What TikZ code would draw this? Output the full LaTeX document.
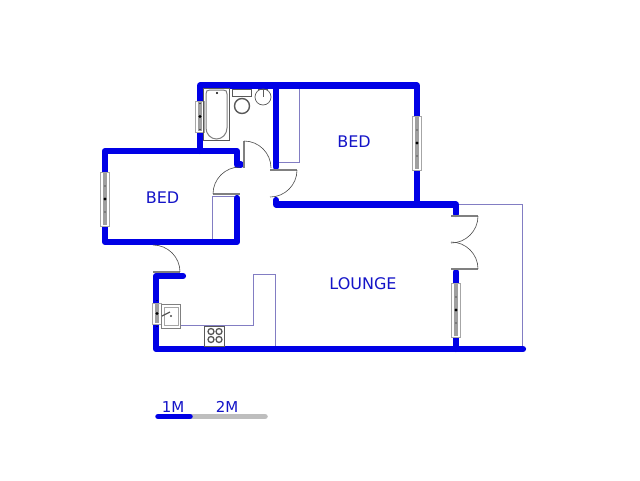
\documentclass[tikz,border=0pt]{standalone}
\usepackage{fontspec}
\setmainfont{DejaVu Sans}
\definecolor{wallblue}{RGB}{0,0,230}
\definecolor{labelblue}{RGB}{20,20,200}
\definecolor{fitline}{RGB}{130,125,195}
\definecolor{barGrey}{RGB}{190,190,190}
\newcommand{\planwindow}[3]{%
  \fill[white] (#1-4.5,#2) rectangle (#1+4.5,#3);
  \draw[gray!70,line width=0.8pt] (#1-4.5,#2) rectangle (#1+4.5,#3);
  \fill[gray!75] (#1-1.8,#2+1) rectangle (#1+1.8,#3-1);
  \fill[black] (#1,{(#2+#3)/2}) circle (1.6);
  \fill[black] (#1,{(#2+#3)/2-13}) circle (0.7);
  \fill[black] (#1,{(#2+#3)/2+13}) circle (0.7);
}
\begin{document}
\begin{tikzpicture}[x=1pt,y=-1pt,
    wall/.style={draw=wallblue,line width=6.2pt,line cap=round,line join=round},
    fitting/.style={draw=fitline,line width=0.8pt},
    lintel/.style={draw=gray,line width=2.4pt},
    swing/.style={draw=black!70,line width=0.6pt},
    ware/.style={draw=black!65,line width=0.7pt},
    roomlabel/.style={text=labelblue,font=\fontsize{16}{16}\selectfont,inner sep=0pt},
    barlabel/.style={text=labelblue,font=\fontsize{15}{15}\selectfont,inner sep=0pt}]
    \useasboundingbox[fill=white] (0,0) rectangle (640,480);
    %built in cupboards and stoep
    \draw[fitting] (276,162) -- (299,162) -- (299,88);
    \draw[fitting] (237,196) -- (212,196) -- (212,241);
    \draw[fitting] (180,325) -- (253,325) -- (253,274) -- (275,274) -- (275,348);
    \draw[fitting] (459,204.5) -- (522,204.5) -- (522,348);
    %walls
    \draw[wall] (241,164.5) -- (237,164.5) -- (237,151) -- (105,151) -- (105,172);
    \draw[wall] (105,226) -- (105,242) -- (237,242) -- (237,198);
    \draw[wall] (200,151) -- (200,85.5) -- (417,85.5) -- (417,204.5) -- (276,204.5) -- (276,200);
    \draw[wall] (276,86) -- (276,167);
    \draw[wall] (417,204.5) -- (456,204.5) -- (456,214);
    \draw[wall] (456,272) -- (456,349);
    \draw[wall] (183,276) -- (156,276) -- (156,349) -- (523,349);
    %windows
    \planwindow{417}{116}{170}
    \planwindow{105}{172}{226}
    \planwindow{200}{101}{132}
    \planwindow{456}{283}{337}
    \planwindow{157}{303}{324}
    %doors
    \draw[lintel] (213,194) -- (240,194);
    \draw[swing] (213,194) arc (180:270:27);
    \draw[lintel] (244,141) -- (244,168);
    \draw[swing] (244,141) arc (270:360:27);
    \draw[lintel] (270,170) -- (297,170);
    \draw[swing] (297,170) arc (0:90:27);
    \draw[lintel] (153,272) -- (180,272);
    \draw[swing] (180,272) arc (0:-90:27);
    \draw[lintel] (451,216) -- (478,216);
    \draw[swing] (478,216) arc (0:90:27);
    \draw[lintel] (451,269) -- (478,269);
    \draw[swing] (478,269) arc (0:-90:27);
    %bathroom
    \draw[ware] (203,88.5) rectangle (229,140);
    \draw[draw=gray,line width=1pt] (206,94) .. controls (206,91) and (207,90) .. (210,90) -- (223,90)
        .. controls (226,90) and (227,91) .. (227,94) -- (227,128) arc (0:180:10.5 and 11) -- cycle;
    \fill[black] (217,93) circle (1.2);
    \draw[ware] (232,89) rectangle (251,96);
    \draw[ware,line width=1.4pt] (242,106) circle (7.5);
    \draw[ware] (263,97) circle (8);
    \draw[ware,line width=1.4pt] (258,89.5) -- (268,89.5);
    \draw[ware] (263,89) -- (263,97);
    %kitchen
    \fill[white] (161,304) rectangle (180.5,328);
    \draw[ware,draw=gray] (161,304) rectangle (180.5,328);
    \draw[ware,draw=gray!70] (164,307) rectangle (178,325);
    \draw[ware,line width=1.2pt] (162,316) -- (170,312);
    \fill[black!70] (171,316) circle (1.1);
    \draw[ware] (204,326) rectangle (224.5,346);
    \foreach \cx/\cy in {211/331.5,219/331.5,211/339.5,219/339.5}
        \draw[ware,line width=1.3pt] (\cx,\cy) circle (3);
    %labels
    \node[roomlabel] (bedone) at (354,142) {BED};
    \node[roomlabel] (bedtwo) at (162.5,197.5) {BED};
    \node[roomlabel] (lounge) at (363,284) {LOUNGE};
    %scale bar
    \draw[draw=barGrey,line width=5.5pt,line cap=round] (190,416.5) -- (265,416.5);
    \draw[draw=wallblue,line width=5.5pt,line cap=round] (158,416.5) -- (190,416.5);
    \node[barlabel] (onem) at (173,407) {1M};
    \node[barlabel] (twom) at (227,407) {2M};
\end{tikzpicture}
\end{document}
